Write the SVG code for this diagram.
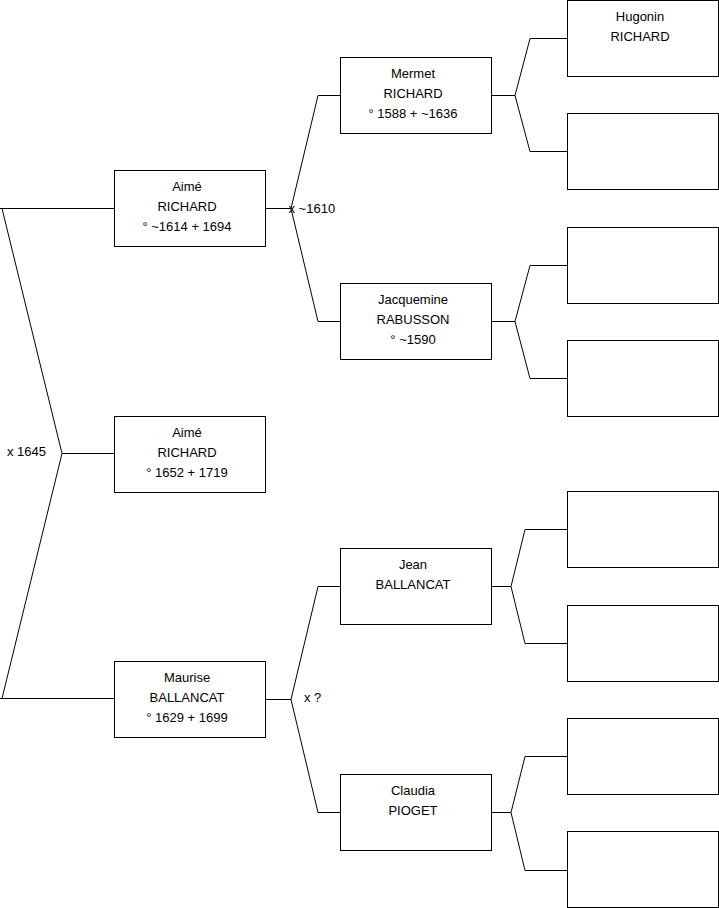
<svg xmlns="http://www.w3.org/2000/svg" width="719" height="908" viewBox="0 0 719 908">
<style>
.box{fill:#fff;stroke:#000;stroke-width:1}
.ln{fill:none;stroke:#000;stroke-width:1}
text{font-family:"Liberation Sans",Arial,sans-serif;font-size:13px;fill:#000}
.c{text-anchor:middle}
</style>
<rect width="719" height="908" fill="#fff"/>
<g id="connectors">
<path class="ln" d="M0 208.5H114.5M2 208.5L62 453.5L2 698.5M0 698.5H114.5M62 453.5H114.5"/>
<path class="ln" d="M265.5 208.5H291L318 95.5H340.5M291 208.5L318 321.5H340.5"/>
<path class="ln" d="M265.5 699.5H291L318 586.5H340.5M291 699.5L318 812.5H340.5"/>
<path class="ln" d="M491.5 95.5H515L530 38.5H567.5M515 95.5L530 151.5H567.5"/>
<path class="ln" d="M491.5 321.5H515L530 265.5H567.5M515 321.5L530 378.5H567.5"/>
<path class="ln" d="M491.5 586.5H511L525 529.5H567.5M511 586.5L525 643.5H567.5"/>
<path class="ln" d="M491.5 812.5H511L525 756.5H567.5M511 812.5L525 870.5H567.5"/>
<text x="288.5" y="212.5">x ~1610</text>
<text x="7" y="456">x 1645</text>
<text x="304" y="702">x ?</text>
</g>
<g id="aime1"><rect class="box" x="114.5" y="170.5" width="151" height="76"/>
<text class="c" x="187" y="190.5">Aimé</text><text class="c" x="187" y="210.5">RICHARD</text><text class="c" x="187" y="230.5">° ~1614 + 1694</text></g>
<g id="aime2"><rect class="box" x="114.5" y="416.5" width="151" height="76"/>
<text class="c" x="187" y="436.5">Aimé</text><text class="c" x="187" y="456.5">RICHARD</text><text class="c" x="187" y="476.5">° 1652 + 1719</text></g>
<g id="maurise"><rect class="box" x="114.5" y="661.5" width="151" height="76"/>
<text class="c" x="187" y="681.5">Maurise</text><text class="c" x="187" y="701.5">BALLANCAT</text><text class="c" x="187" y="721.5">° 1629 + 1699</text></g>
<g id="mermet"><rect class="box" x="340.5" y="57.5" width="151" height="76"/>
<text class="c" x="413" y="77.5">Mermet</text><text class="c" x="413" y="97.5">RICHARD</text><text class="c" x="413" y="117.5">° 1588 + ~1636</text></g>
<g id="jacquemine"><rect class="box" x="340.5" y="283.5" width="151" height="76"/>
<text class="c" x="413" y="303.5">Jacquemine</text><text class="c" x="413" y="323.5">RABUSSON</text><text class="c" x="413" y="343.5">° ~1590</text></g>
<g id="jean"><rect class="box" x="340.5" y="548.5" width="151" height="76"/>
<text class="c" x="413" y="568.5">Jean</text><text class="c" x="413" y="588.5">BALLANCAT</text></g>
<g id="claudia"><rect class="box" x="340.5" y="774.5" width="151" height="76"/>
<text class="c" x="413" y="794.5">Claudia</text><text class="c" x="413" y="814.5">PIOGET</text></g>
<g id="hugonin"><rect class="box" x="567.5" y="0.5" width="151" height="76"/>
<text class="c" x="640" y="20.5">Hugonin</text><text class="c" x="640" y="40.5">RICHARD</text></g>
<g id="p2"><rect class="box" x="567.5" y="113.5" width="151" height="76"/></g>
<g id="p3"><rect class="box" x="567.5" y="227.5" width="151" height="76"/></g>
<g id="p4"><rect class="box" x="567.5" y="340.5" width="151" height="76"/></g>
<g id="p5"><rect class="box" x="567.5" y="491.5" width="151" height="76"/></g>
<g id="p6"><rect class="box" x="567.5" y="605.5" width="151" height="76"/></g>
<g id="p7"><rect class="box" x="567.5" y="718.5" width="151" height="76"/></g>
<g id="p8"><rect class="box" x="567.5" y="831.5" width="151" height="76"/></g>
</svg>
